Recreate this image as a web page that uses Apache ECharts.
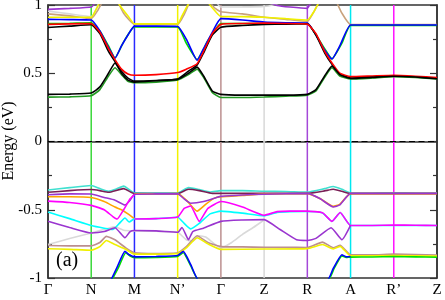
<!DOCTYPE html>
<html><head><meta charset="utf-8">
<script src="https://cdn.jsdelivr.net/npm/echarts@6/dist/echarts.min.js"></script>
<style>html,body{margin:0;padding:0;background:#fff}#c{width:445px;height:300px}</style>
</head><body><div id="c"></div>
<script>
// ---- k-path ----
const kLabels = ['Γ','N','M','N’','Γ','Z','R','A','R’','Z'];
const kLinePos = [1,2,3,4,5,6,7,8];
const kLineColors = ['#3ad83a','#2a2aff','#f2f200','#bc8f8f','#d8d8d8','#a448d8','#00e8f0','#ff10ff'];
const zeroLine = [[0,0],[9,0]];
const yTitle = 'Energy (eV)';
const panelTag = '(a)';

// ---- conduction bands ----
const cbGreenLow = [[0,0.325],[0.5,0.327],[1,0.335],[1.2,0.38],[1.4,0.48],[1.55,0.54],[1.7,0.49],[1.85,0.44],[2,0.43],[2.5,0.435],[3,0.45],[3.25,0.49],[3.45,0.53],[3.6,0.47],[3.8,0.36],[4,0.322],[4.5,0.322],[5,0.326],[5.5,0.332],[6,0.34],[6.2,0.37],[6.4,0.47],[6.57,0.54],[6.75,0.48],[7,0.458],[7.5,0.465],[8,0.474],[8.5,0.469],[9,0.458]];
const cbBlackLow = [[0,0.345],[0.5,0.347],[1,0.355],[1.2,0.4],[1.4,0.5],[1.55,0.575],[1.7,0.5],[1.85,0.45],[2,0.435],[2.5,0.445],[3,0.455],[3.25,0.5],[3.45,0.545],[3.6,0.48],[3.8,0.37],[4,0.345],[4.5,0.34],[5,0.34],[5.5,0.34],[6,0.345],[6.2,0.38],[6.4,0.48],[6.57,0.552],[6.75,0.49],[7,0.462],[7.5,0.47],[8,0.478],[8.5,0.472],[9,0.46]];
const cbBlackUp = [[0,0.835],[0.5,0.845],[1,0.855],[1.2,0.79],[1.4,0.66],[1.55,0.585],[1.7,0.515],[1.85,0.465],[2,0.442],[2.5,0.447],[3,0.458],[3.25,0.515],[3.45,0.56],[3.6,0.65],[3.8,0.78],[4,0.837],[4.5,0.85],[5,0.858],[5.5,0.86],[6,0.862],[6.2,0.78],[6.4,0.65],[6.57,0.565],[6.75,0.495],[7,0.465],[7.5,0.472],[8,0.48],[8.5,0.474],[9,0.462]];
const cbRed = [[0,0.858],[0.5,0.862],[1,0.865],[1.2,0.8],[1.4,0.68],[1.55,0.6],[1.7,0.53],[1.85,0.495],[2,0.485],[2.5,0.49],[3,0.505],[3.2,0.53],[3.45,0.57],[3.6,0.66],[3.8,0.79],[4,0.858],[4.5,0.865],[5,0.868],[5.5,0.865],[6,0.86],[6.2,0.79],[6.4,0.66],[6.57,0.575],[6.75,0.5],[7,0.475],[7.5,0.48],[8,0.485],[8.5,0.478],[9,0.468]];
const cbGreenUp = [[0,0.864],[0.5,0.866],[1,0.87],[1.2,0.81],[1.4,0.7],[1.55,0.612],[1.75,0.73],[2,0.84],[2.5,0.84],[3,0.84],[3.2,0.72],[3.45,0.6],[3.7,0.74],[4,0.864],[4.5,0.865],[5,0.865],[5.5,0.865],[6,0.865],[6.2,0.78],[6.4,0.68],[6.57,0.605],[6.8,0.72],[7,0.85],[8,0.85],[9,0.85]];
const cbBlue = [[0,0.895],[0.5,0.893],[1,0.89],[1.2,0.81],[1.4,0.69],[1.55,0.61],[1.7,0.7],[1.85,0.78],[2,0.845],[2.5,0.845],[3,0.843],[3.2,0.75],[3.45,0.595],[3.6,0.68],[3.8,0.8],[4,0.9],[4.5,0.89],[5,0.875],[5.5,0.87],[6,0.868],[6.2,0.78],[6.4,0.67],[6.57,0.605],[6.75,0.7],[7,0.853],[7.5,0.853],[8,0.853],[8.5,0.853],[9,0.853]];
const cbTanA = [[0,0.935],[0.5,0.92],[1,0.9],[1.15,0.96],[1.3,1.05]];
const cbTanB = [[1.58,1.05],[1.75,0.94],[2,0.858],[2.5,0.858],[3,0.858],[3.15,0.93],[3.3,1.04]];
const cbTanC = [[3.7,1.04],[3.85,0.98],[4,0.95],[4.5,0.935],[5,0.91],[5.5,0.895],[6,0.88],[6.15,0.95],[6.3,1.04]];
const cbTanD = [[6.65,1.04],[6.8,0.94],[7,0.857],[7.5,0.857],[8,0.857],[8.5,0.857],[9,0.857]];
const cbYellowA = [[0,0.91],[0.5,0.91],[1,0.91],[1.1,0.96],[1.25,1.05]];
const cbYellowB = [[1.55,1.05],[1.7,0.98],[1.85,0.92],[2,0.862],[2.5,0.862],[3,0.862],[3.1,0.92],[3.3,1.04]];
const cbYellowC = [[3.65,1.04],[3.8,0.98],[4,0.915],[4.5,0.915],[5,0.91],[5.5,0.9],[6,0.89],[6.15,0.95],[6.3,1.04]];
const cbPurpleA = [[0,0.968],[0.5,0.975],[1,0.985],[1.1,1.02]];
const cbPurpleB = [[5.1,1.02],[5.3,0.997],[5.6,0.985],[6,0.975],[6.05,1.0],[6.1,1.03]];
const cbGrayA = [[0,0.955],[0.5,0.935],[1,0.915],[1.1,0.96],[1.2,1.04]];
const cbGrayB = [[3.85,1.04],[4,0.985],[4.5,0.986],[5,0.99],[5.2,1.0],[5.4,1.02]];

// ---- valence bands ----
const vbGray = [[0,-0.755],[0.5,-0.71],[1,-0.67],[1.4,-0.635],[1.55,-0.625],[1.75,-0.65],[2,-0.655],[2.5,-0.658],[3,-0.665],[3.2,-0.72],[3.35,-0.73],[3.5,-0.69],[3.65,-0.7],[4,-0.78],[4.25,-0.74],[4.5,-0.68],[4.75,-0.63],[5,-0.575]];
const vbTurq = [[0,-0.355],[0.5,-0.338],[1,-0.322],[1.2,-0.345],[1.4,-0.364],[1.6,-0.345],[1.75,-0.327],[2,-0.376],[2.5,-0.377],[3,-0.377],[3.25,-0.338],[3.5,-0.352],[3.75,-0.37],[4,-0.36],[4.5,-0.36],[5,-0.365],[5.5,-0.366],[6,-0.37],[6.4,-0.345],[6.6,-0.33],[6.8,-0.35],[7,-0.377],[7.5,-0.377],[8,-0.376],[8.5,-0.377],[9,-0.377]];
const vbMaroon = [[0,-0.372],[0.5,-0.36],[1,-0.352],[1.2,-0.36],[1.4,-0.372],[1.75,-0.345],[2,-0.382],[2.5,-0.382],[3,-0.382],[3.25,-0.35],[3.5,-0.36],[3.8,-0.38],[4,-0.38],[5,-0.38],[6,-0.38],[6.4,-0.362],[6.6,-0.35],[6.8,-0.365],[7,-0.382],[8,-0.382],[9,-0.382]];
const vbOrangeA = [[0,-0.405],[0.5,-0.405],[1,-0.41],[1.3,-0.44],[1.55,-0.48],[1.7,-0.5],[1.85,-0.53],[2,-0.566]];
const vbOrangeB = [[2,-0.384],[2.5,-0.383],[3,-0.382],[3.2,-0.43],[3.45,-0.51],[3.65,-0.46],[3.85,-0.415],[4,-0.405],[4.5,-0.395],[5,-0.385],[5.5,-0.383],[6,-0.382],[6.3,-0.42],[6.6,-0.475],[6.75,-0.46],[7,-0.382],[8,-0.382],[9,-0.382]];
const vbPurpleUp = [[0,-0.39],[0.5,-0.384],[1,-0.385],[1.3,-0.41],[1.55,-0.43],[1.78,-0.465],[1.9,-0.43],[2,-0.386],[2.5,-0.384],[3,-0.383],[3.15,-0.42],[3.3,-0.452],[3.6,-0.44],[3.9,-0.41],[4,-0.402],[4.5,-0.392],[5,-0.386],[6,-0.38],[6.3,-0.42],[6.6,-0.48],[6.75,-0.465],[7,-0.38],[8,-0.38],[9,-0.38]];
const vbCyan = [[0,-0.517],[0.5,-0.565],[1,-0.615],[1.3,-0.635],[1.5,-0.645],[1.65,-0.6],[1.78,-0.56],[1.88,-0.59],[2,-0.566],[2.5,-0.565],[3,-0.555],[3.15,-0.6],[3.3,-0.64],[3.5,-0.6],[3.75,-0.53],[4,-0.51],[4.5,-0.525],[5,-0.545],[5.3,-0.52],[5.6,-0.514],[6,-0.513],[6.35,-0.523],[6.57,-0.585],[6.76,-0.52],[7,-0.615],[8,-0.615],[9,-0.615]];
const vbMagentaA = [[0,-0.437],[0.5,-0.447],[1,-0.468],[1.3,-0.5],[1.5,-0.55],[1.6,-0.568],[1.75,-0.5],[1.9,-0.42],[2,-0.39]];
const vbMagentaB = [[2,-0.568],[2.5,-0.565],[3,-0.553],[3.15,-0.49],[3.3,-0.472],[3.5,-0.585],[3.7,-0.49],[4,-0.44],[4.5,-0.48],[5,-0.54],[5.3,-0.514],[5.6,-0.51],[6,-0.51],[6.35,-0.522],[6.57,-0.585],[6.76,-0.52],[7,-0.615],[7.5,-0.615],[8,-0.612],[8.5,-0.614],[9,-0.615]];
const vbPurpleMid = [[0,-0.585],[0.5,-0.63],[1,-0.67],[1.3,-0.66],[1.55,-0.632],[1.78,-0.705],[1.9,-0.66],[2,-0.652],[2.5,-0.655],[3,-0.665],[3.1,-0.63],[3.25,-0.72],[3.35,-0.66],[3.6,-0.635],[4,-0.585],[4.5,-0.575],[5,-0.572],[5.37,-0.645],[5.75,-0.72],[6,-0.725],[6.2,-0.71],[6.55,-0.632],[6.8,-0.72],[7,-0.615]];
const vbBrown = [[0,-0.762],[0.5,-0.765],[1,-0.765],[1.2,-0.74],[1.35,-0.695],[1.55,-0.72],[1.8,-0.78],[2,-0.815],[2.5,-0.82],[3,-0.815],[3.2,-0.77],[3.45,-0.69],[3.7,-0.74],[4,-0.77],[4.5,-0.772],[5,-0.775],[5.5,-0.775],[6,-0.777],[6.35,-0.737],[6.6,-0.778],[6.76,-0.76],[7,-0.83],[7.5,-0.83],[8,-0.825],[8.5,-0.828],[9,-0.832]];
const vbYellow = [[0,-0.786],[0.5,-0.79],[1,-0.797],[1.2,-0.77],[1.35,-0.725],[1.55,-0.755],[1.8,-0.79],[2,-0.825],[2.5,-0.825],[3,-0.82],[3.2,-0.78],[3.45,-0.705],[3.7,-0.75],[4,-0.79],[5,-0.788],[6,-0.785],[6.35,-0.755],[6.6,-0.787],[6.76,-0.768],[7,-0.838],[8,-0.836],[9,-0.84]];
const vbGreenLow = [[1.47,-1.02],[1.62,-0.93],[1.8,-0.815],[1.9,-0.84],[2,-0.852],[2.5,-0.85],[3,-0.842],[3.13,-0.815],[3.3,-0.91],[3.5,-1.02],[6.47,-1.02],[6.62,-0.93],[6.8,-0.838],[6.9,-0.85],[7,-0.847],[7.5,-0.846],[8,-0.843],[8.5,-0.845],[9,-0.848]];
const vbBlueLow = [[1.45,-1.02],[1.6,-0.92],[1.78,-0.805],[1.88,-0.83],[2,-0.845],[2.5,-0.842],[3,-0.835],[3.13,-0.805],[3.3,-0.9],[3.5,-1.02],[6.45,-1.02],[6.6,-0.93],[6.8,-0.83],[6.9,-0.845],[7,-0.842]];

const bands = [
  [vbGray,'#d9d9d9'],[cbGrayA,'#d9d9d9'],[cbGrayB,'#d9d9d9'],
  [vbTurq,'#40e0d0'],[vbMaroon,'#7a1f55'],[vbOrangeA,'#ffa500'],[vbOrangeB,'#ffa500'],[vbPurpleUp,'#9a35cf'],
  [vbCyan,'#00ffff'],[vbMagentaA,'#ff00ff'],[vbMagentaB,'#ff00ff'],[vbPurpleMid,'#9a35cf'],
  [vbBrown,'#bc8f8f'],[vbYellow,'#f0f000'],[vbGreenLow,'#00e000'],[vbBlueLow,'#0000ff'],
  [cbPurpleA,'#9a35cf'],[cbPurpleB,'#9a35cf'],
  [cbTanA,'#c9a27c'],[cbTanB,'#c9a27c'],[cbTanC,'#c9a27c'],[cbTanD,'#c9a27c'],
  [cbYellowA,'#f0f000'],[cbYellowB,'#f0f000'],[cbYellowC,'#f0f000'],
  [cbGreenUp,'#00d800'],[cbBlue,'#0000ff'],[cbBlackUp,'#000000'],[cbRed,'#ff0000'],
  [cbGreenLow,'#229a22'],[cbBlackLow,'#000000']
];

const series = [];
kLinePos.forEach((k,i)=>{
  series.push({type:'line',data:[[k,-1],[k,1]],showSymbol:false,silent:true,
    lineStyle:{color:kLineColors[i],width:1.5},z:1});
});
series.push({type:'line',data:zeroLine,showSymbol:false,silent:true,
  lineStyle:{color:'#000',width:1.2,type:[6,3.5]},z:2});
bands.forEach(([d,c])=>{
  series.push({type:'line',data:d,showSymbol:false,smooth:0.15,clip:true,silent:true,
    lineStyle:{color:c,width:1.6},z:3});
});

const chart = echarts.init(document.getElementById('c'),null,{renderer:'canvas'});
const serif = '"Liberation Serif","DejaVu Serif",serif';
chart.setOption({
  animation:false,
  backgroundColor:'#fff',
  grid:{left:48,right:8,top:5,bottom:22,outerBoundsMode:'none',containLabel:false,show:true,borderColor:'#333',borderWidth:1.5,backgroundColor:'transparent'},
  xAxis:{type:'value',min:0,max:9,interval:1,
    axisLine:{show:true,lineStyle:{color:'#333',width:1.5}},
    axisTick:{show:false},splitLine:{show:false},
    axisLabel:{formatter:v=>kLabels[Math.round(v)],fontFamily:serif,fontSize:15,color:'#000',margin:5}},
  yAxis:[{type:'value',min:-1,max:1,interval:0.5,
    axisLine:{show:true,lineStyle:{color:'#333',width:1.5}},
    axisTick:{show:true,inside:true,length:7,lineStyle:{color:'#333',width:1.2}},
    minorTick:{show:true,splitNumber:2,length:4,lineStyle:{color:'#333',width:1.2}},
    splitLine:{show:false},
    axisLabel:{fontFamily:serif,fontSize:15,color:'#000',margin:6}},
   {type:'value',min:-1,max:1,interval:0.5,position:'right',
    axisLine:{show:true,lineStyle:{color:'#333',width:1.5}},
    axisTick:{show:true,inside:true,length:7,lineStyle:{color:'#333',width:1.2}},
    minorTick:{show:true,splitNumber:2,length:4,lineStyle:{color:'#333',width:1.2}},
    splitLine:{show:false},axisLabel:{show:false}}],
  graphic:[
    {type:'text',x:9,y:141,rotation:Math.PI/2,
      style:{text:yTitle,fontFamily:serif,fontSize:16,fill:'#000',align:'center',verticalAlign:'middle'},z:10},
    {type:'text',left:56,top:251,style:{text:panelTag,fontFamily:serif,fontSize:20,fill:'#000'},z:10}],
  series:series
});
</script></body></html>
